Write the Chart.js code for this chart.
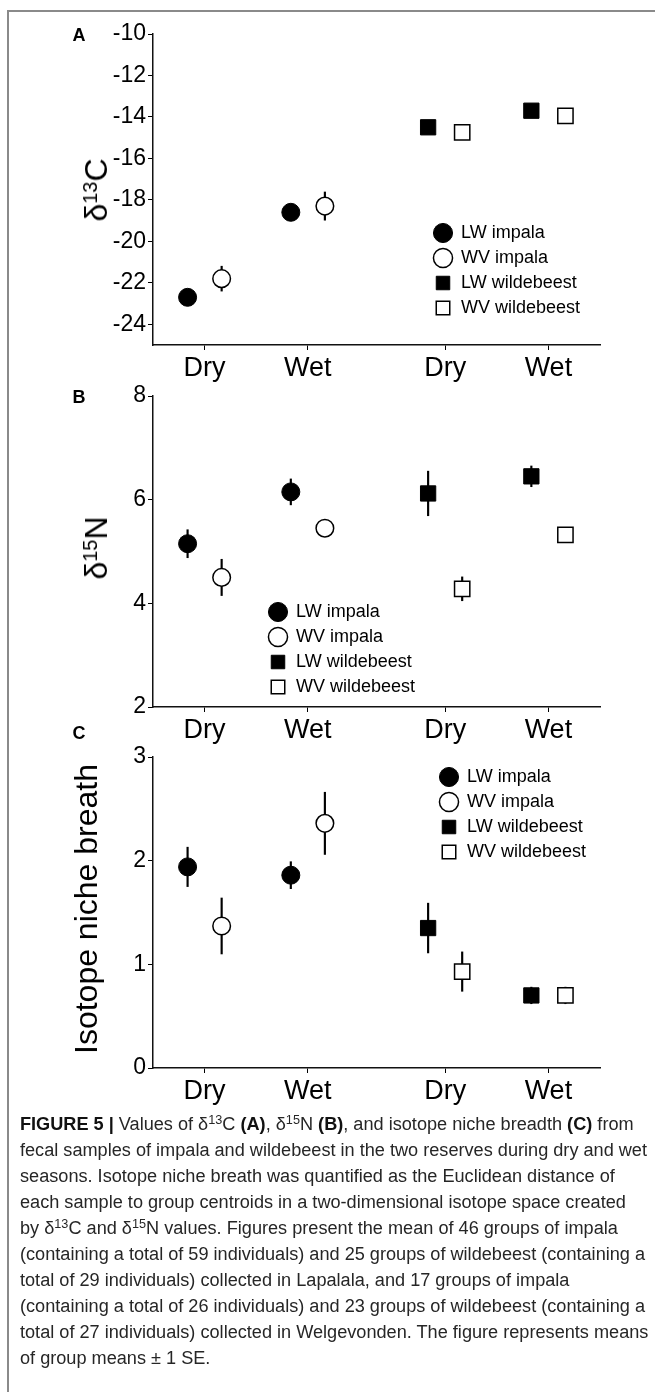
<!DOCTYPE html>
<html>
<head>
<meta charset="utf-8">
<script src="https://cdn.jsdelivr.net/npm/chart.js@4.4.1/dist/chart.umd.min.js"></script>
<style>
html, body { margin: 0; padding: 0; background: #fff; width: 655px; height: 1392px; overflow: hidden; }
#page { position: relative; width: 655px; height: 1392px; overflow: hidden; font-family: 'Liberation Sans', Arial, Helvetica, sans-serif; color: #000; }
#frame { position: absolute; left: 7px; top: 10px; width: 700px; height: 1500px; border-left: 2px solid #8a8a8a; border-top: 2px solid #8a8a8a; }
canvas.cv { position: absolute; left: 0; }
.plabel { position: absolute; font-weight: bold; font-size: 18px; line-height: 1; transform: translate(-50%, -50%); }
.ytitle { position: absolute; white-space: nowrap; line-height: 1; font-size: 32px; transform: translate(-50%, -50%) rotate(-90deg); }
.ytitle sup { font-size: 0.62em; position: relative; top: -0.48em; vertical-align: baseline; line-height: 0; }
#caption { position: absolute; left: 20px; top: 1111px; font-size: 18px; line-height: 26px; color: #262626; transform-origin: 0 0; white-space: nowrap; }
#caption sup { font-size: 0.7em; position: relative; top: -0.45em; vertical-align: baseline; line-height: 0; }
#caption b { color: #111; }
</style>
</head>
<body>
<div id="page">
  <div id="frame"></div>
  <canvas id="chartA" class="cv" width="655" height="400" style="top:0px"></canvas>
  <canvas id="chartB" class="cv" width="655" height="400" style="top:362px"></canvas>
  <canvas id="chartC" class="cv" width="655" height="400" style="top:723px"></canvas>

  <div class="plabel" style="left:79px; top:35px;">A</div>
  <div class="plabel" style="left:79px; top:397px;">B</div>
  <div class="plabel" style="left:79px; top:733px;">C</div>

  <div class="ytitle" style="left:96px; top:190px;">δ<sup>13</sup>C</div>
  <div class="ytitle" style="left:96px; top:548px;">δ<sup>15</sup>N</div>
  <div class="ytitle" style="left:86px; top:909px;">Isotope niche breath</div>

  <div id="caption">
    <div class="ln"><b>FIGURE 5 |</b> Values of δ<sup>13</sup>C <b>(A)</b>, δ<sup>15</sup>N <b>(B)</b>, and isotope niche breadth <b>(C)</b> from</div>
    <div class="ln" id="fitline">fecal samples of impala and wildebeest in the two reserves during dry and wet</div>
    <div class="ln">seasons. Isotope niche breath was quantified as the Euclidean distance of</div>
    <div class="ln">each sample to group centroids in a two-dimensional isotope space created</div>
    <div class="ln">by δ<sup>13</sup>C and δ<sup>15</sup>N values. Figures present the mean of 46 groups of impala</div>
    <div class="ln">(containing a total of 59 individuals) and 25 groups of wildebeest (containing a</div>
    <div class="ln">total of 29 individuals) collected in Lapalala, and 17 groups of impala</div>
    <div class="ln">(containing a total of 26 individuals) and 23 groups of wildebeest (containing a</div>
    <div class="ln">total of 27 individuals) collected in Welgevonden. The figure represents means</div>
    <div class="ln">of group means ± 1 SE.</div>
  </div>
</div>

<script>
// ---------------- DATA ----------------
const categories = ['Dry', 'Wet', 'Dry', 'Wet'];
const seriesNames = ['LW impala', 'WV impala', 'LW wildebeest', 'WV wildebeest'];

// Panel A: δ13C, [Dry, Wet]
const d13C_LW_impala = [-22.7, -18.6];
const d13C_WV_impala = [-21.8, -18.3];
const d13C_LW_wildebeest = [-14.5, -13.7];
const d13C_WV_wildebeest = [-14.75, -13.95];
const d13C_LW_impala_se = [0.3, 0.3];
const d13C_WV_impala_se = [0.6, 0.68];
const d13C_LW_wildebeest_se = [0.25, 0.25];
const d13C_WV_wildebeest_se = [0.25, 0.25];
const d13C_ticks = [-24, -22, -20, -18, -16, -14, -12, -10];

// Panel B: δ15N, [Dry, Wet]
const d15N_LW_impala = [5.15, 6.15];
const d15N_WV_impala = [4.5, 5.45];
const d15N_LW_wildebeest = [6.12, 6.45];
const d15N_WV_wildebeest = [4.28, 5.32];
const d15N_LW_impala_se = [0.27, 0.25];
const d15N_WV_impala_se = [0.35, 0.12];
const d15N_LW_wildebeest_se = [0.43, 0.2];
const d15N_WV_wildebeest_se = [0.23, 0.1];
const d15N_ticks = [2, 4, 6, 8];

// Panel C: isotope niche breadth, [Dry, Wet]
const niche_LW_impala = [1.94, 1.86];
const niche_WV_impala = [1.37, 2.36];
const niche_LW_wildebeest = [1.35, 0.7];
const niche_WV_wildebeest = [0.93, 0.7];
const niche_LW_impala_se = [0.19, 0.13];
const niche_WV_impala_se = [0.27, 0.3];
const niche_LW_wildebeest_se = [0.24, 0.08];
const niche_WV_wildebeest_se = [0.19, 0.08];
const niche_ticks = [0, 1, 2, 3];

// ---------------- LAYOUT / STYLE ----------------
const FONT = "'Liberation Sans', Arial, Helvetica, sans-serif";
Chart.defaults.font.family = FONT;
const groupX = [1, 2, 3.33, 4.33];
const seriesOffset = [-0.165, 0.165, -0.165, 0.165];
const seriesCats = [[0, 1], [0, 1], [2, 3], [2, 3]];
const markerStyle = [
  { pointStyle: 'circle', radius: 9, fill: '#000', bw: 1 },
  { pointStyle: 'circle', radius: 8.8, fill: '#fff', bw: 1.5 },
  { pointStyle: 'rect', radius: 10.8, fill: '#000', bw: 1 },
  { pointStyle: 'rect', radius: 10.8, fill: '#fff', bw: 1.5 }
];

function buildDatasets(means, ses) {
  const ds = means.map((m, s) => ({
    label: seriesNames[s],
    data: m.map((v, k) => ({ x: groupX[seriesCats[s][k]] + seriesOffset[s], y: v })),
    pointStyle: markerStyle[s].pointStyle,
    pointRadius: markerStyle[s].radius,
    pointHoverRadius: markerStyle[s].radius,
    pointBackgroundColor: markerStyle[s].fill,
    pointBorderColor: '#000',
    pointBorderWidth: markerStyle[s].bw,
    backgroundColor: markerStyle[s].fill,
    borderColor: '#000',
    borderWidth: markerStyle[s].bw,
    showLine: false,
    order: 1
  }));
  const err = [];
  means.forEach((m, s) => m.forEach((v, k) => {
    err.push({ x: groupX[seriesCats[s][k]] + seriesOffset[s], y: [v - ses[s][k], v + ses[s][k]] });
  }));
  ds.push({
    type: 'bar', label: 'SE', data: err,
    backgroundColor: '#000', borderWidth: 0, barThickness: 1.5, order: 5
  });
  return ds;
}

const legendPlacer = {
  id: 'legendPlacer',
  afterLayout(chart, args, opts) {
    const lg = chart.legend;
    if (!lg) return;
    const lo = chart.options.plugins.legend.labels;
    const fs = lo.font.size, pad = lo.padding, bw = Math.min(lo.boxWidth, fs);
    lg.left = opts.x - pad - bw / 2;
    lg.top = (opts.y - opts.canvasTop) - pad - fs / 2;
    lg.right = lg.left + 260;
    lg.bottom = lg.top + 220;
    lg.width = 260;
    lg.height = 220;
  }
};

function makeChart(id, canvasTop, datasets, yMin, yMax, yTicks, legendXY) {
  const axisGrid = { display: true, drawOnChartArea: false, drawTicks: true, tickLength: 5, color: '#000', lineWidth: 1, offset: false };
  const axisBorder = { display: true, color: '#111', width: 1.5 };
  return new Chart(document.getElementById(id), {
    type: 'scatter',
    data: { datasets },
    options: {
      responsive: false,
      animation: false,
      events: [],
      layout: { padding: { left: 0, top: 34, right: 55, bottom: 0 } },
      plugins: {
        legend: {
          position: 'chartArea', align: 'start',
          labels: {
            usePointStyle: true, boxWidth: 18, boxHeight: 13.5, padding: 7, color: '#000',
            font: { family: FONT, size: 18 },
            filter: (item) => item.datasetIndex < 4
          }
        },
        tooltip: { enabled: false },
        legendPlacer: { x: legendXY[0], y: legendXY[1], canvasTop }
      },
      scales: {
        x: {
          type: 'linear', min: 0.5, max: 4.83, offset: false,
          afterBuildTicks: (sc) => { sc.ticks = groupX.map(v => ({ value: v })); },
          afterFit: (sc) => { sc.height = 55; },
          grid: axisGrid, border: axisBorder,
          ticks: { autoSkip: false, maxRotation: 0, minRotation: 0, padding: 2, color: '#000',
                   font: { family: FONT, size: 27 }, callback: (v, i) => categories[i] }
        },
        y: {
          type: 'linear', min: yMin, max: yMax,
          afterBuildTicks: (sc) => { sc.ticks = yTicks.map(v => ({ value: v })); },
          afterFit: (sc) => { sc.width = 153; },
          grid: axisGrid, border: axisBorder,
          ticks: { padding: 2, color: '#000', font: { family: FONT, size: 23 }, callback: (v) => String(v) }
        }
      }
    },
    plugins: [legendPlacer]
  });
}

makeChart('chartA', 0,
  buildDatasets([d13C_LW_impala, d13C_WV_impala, d13C_LW_wildebeest, d13C_WV_wildebeest],
                [d13C_LW_impala_se, d13C_WV_impala_se, d13C_LW_wildebeest_se, d13C_WV_wildebeest_se]),
  -25, -10, d13C_ticks, [443, 233]);

makeChart('chartB', 362,
  buildDatasets([d15N_LW_impala, d15N_WV_impala, d15N_LW_wildebeest, d15N_WV_wildebeest],
                [d15N_LW_impala_se, d15N_WV_impala_se, d15N_LW_wildebeest_se, d15N_WV_wildebeest_se]),
  2, 8, d15N_ticks, [278, 612]);

makeChart('chartC', 723,
  buildDatasets([niche_LW_impala, niche_WV_impala, niche_LW_wildebeest, niche_WV_wildebeest],
                [niche_LW_impala_se, niche_WV_impala_se, niche_LW_wildebeest_se, niche_WV_wildebeest_se]),
  0, 3, niche_ticks, [449, 777]);

// fit caption width to the reference line length
(function fitCaption() {
  const line = document.getElementById('fitline');
  const range = document.createRange();
  range.selectNodeContents(line);
  const w = range.getBoundingClientRect().width;
  if (w > 0) {
    const s = 627 / w;
    document.getElementById('caption').style.transform = 'scaleX(' + s + ')';
  }
})();
</script>
</body>
</html>
